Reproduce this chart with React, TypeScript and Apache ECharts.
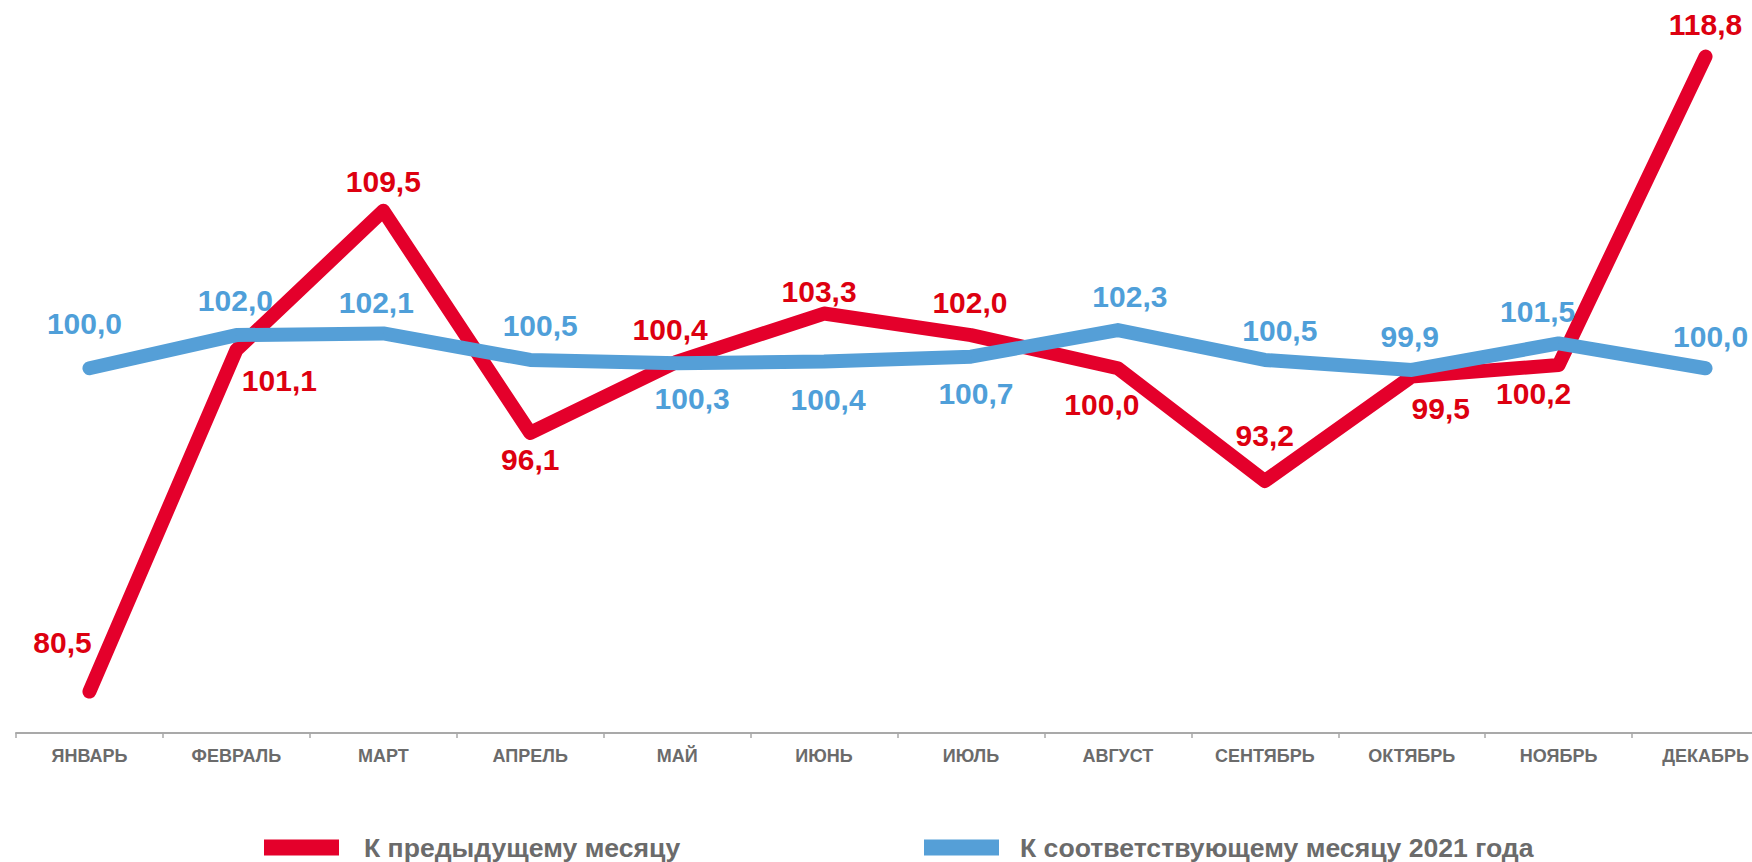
import React, { useEffect, useRef } from "react";
import * as echarts from "echarts";

const months = [
  "ЯНВАРЬ", "ФЕВРАЛЬ", "МАРТ", "АПРЕЛЬ", "МАЙ", "ИЮНЬ",
  "ИЮЛЬ", "АВГУСТ", "СЕНТЯБРЬ", "ОКТЯБРЬ", "НОЯБРЬ", "ДЕКАБРЬ",
];
const prevMonth = [80.5, 101.1, 109.5, 96.1, 100.4, 103.3, 102.0, 100.0, 93.2, 99.5, 100.2, 118.8];
const sameMonth2021 = [100.0, 102.0, 102.1, 100.5, 100.3, 100.4, 100.7, 102.3, 100.5, 99.9, 101.5, 100.0];
const seriesNames = ["К предыдущему месяцу", "К соответствующему месяцу 2021 года"];

// label centre offsets relative to the point (styling only)
const prevLabelOffsets = [
  [-27, -49], [43, 30], [0, -29], [0, 27], [-7, -32], [-5, -22],
  [-1, -33], [-16, 36], [0, -45], [29, 32], [-25, 29], [0, -32],
];
const sameLabelOffsets = [
  [-5, -45], [-1, -35], [-7, -31], [10, -34], [15, 35], [4, 38],
  [5, 37], [12, -34], [15, -29], [-2, -33], [-21, -32], [5, -32],
];

const RED = "#E4002B";
const RED_TEXT = "#DD0010";
const BLUE = "#559FD7";
const BLUE_TEXT = "#4F9FD9";
const GRAY_TEXT = "#6B6B6B";

const fmt = (v: number) => v.toFixed(1).replace(".", ",");

export default function App() {
  const ref = useRef<HTMLDivElement>(null);
  useEffect(() => {
    if (!ref.current) return;
    const chart = echarts.init(ref.current, undefined, { renderer: "svg" });
    const mkData = (vals: number[], offs: number[][]) =>
      vals.map((v, i) => ({ value: v, label: { offset: offs[i] } }));
    const labelBase = (color: string) => ({
      show: true,
      position: "inside",
      color,
      fontSize: 30,
      fontWeight: "bold",
      fontFamily: "'Liberation Sans', Arial, sans-serif",
      formatter: (p: any) => fmt(p.value),
    });
    const legendText = (padLeft: number) => ({
      color: GRAY_TEXT,
      fontSize: 26.6,
      fontWeight: "bold",
      fontFamily: "'Liberation Sans', Arial, sans-serif",
      padding: [0, 0, 0, padLeft],
    });
    chart.setOption({
      animation: false,
      backgroundColor: "#ffffff",
      grid: { left: 16, width: 1763, top: 3.5, bottom: 129, containLabel: false },
      legend: [
        {
          data: [seriesNames[0]],
          left: 264,
          top: 834,
          icon: "rect",
          itemWidth: 75,
          itemHeight: 16,
          padding: 0,
          selectedMode: false,
          textStyle: legendText(20),
        },
        {
          data: [seriesNames[1]],
          left: 924,
          top: 834,
          icon: "rect",
          itemWidth: 75,
          itemHeight: 16,
          padding: 0,
          selectedMode: false,
          textStyle: legendText(16),
        },
      ],
      xAxis: {
        type: "category",
        data: months,
        boundaryGap: true,
        axisLine: { show: true, lineStyle: { color: "#A9A9A9", width: 2 } },
        axisTick: { show: true, length: 5, lineStyle: { color: "#A9A9A9", width: 1.5 } },
        axisLabel: {
          color: GRAY_TEXT,
          fontSize: 18,
          fontWeight: "bold",
          fontFamily: "'Liberation Sans Narrow', 'Arial Narrow', 'Liberation Sans', Arial, sans-serif",
          margin: 14,
          interval: 0,
        },
        splitLine: { show: false },
      },
      yAxis: {
        type: "value",
        min: 78,
        max: 122,
        show: false,
        splitLine: { show: false },
      },
      series: [
        {
          name: seriesNames[0],
          type: "line",
          data: mkData(prevMonth, prevLabelOffsets),
          symbol: "circle",
          symbolSize: 1,
          showSymbol: true,
          itemStyle: { color: RED },
          lineStyle: { color: RED, width: 14, cap: "round", join: "round" },
          label: labelBase(RED_TEXT),
          z: 2,
        },
        {
          name: seriesNames[1],
          type: "line",
          data: mkData(sameMonth2021, sameLabelOffsets),
          symbol: "circle",
          symbolSize: 1,
          showSymbol: true,
          itemStyle: { color: BLUE },
          lineStyle: { color: BLUE, width: 14, cap: "round", join: "round" },
          label: labelBase(BLUE_TEXT),
          z: 3,
        },
      ],
    });
    return () => chart.dispose();
  }, []);
  return (
    <div
      style={{
        position: "fixed",
        left: 0,
        top: 0,
        width: 1752,
        height: 862,
        overflow: "hidden",
        background: "#fff",
      }}
    >
      <div ref={ref} style={{ width: 1790, height: 862 }} />
    </div>
  );
}
